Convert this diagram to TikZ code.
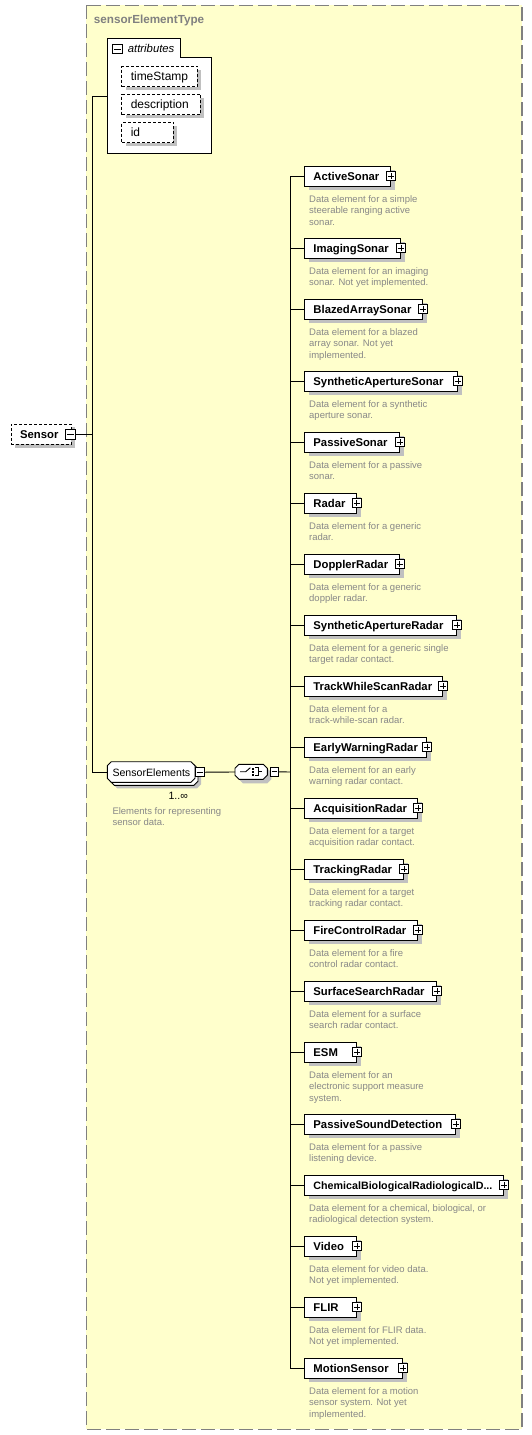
\documentclass[tikz,border=0pt]{standalone}
\usepackage{fontspec}
\setmainfont{Liberation Sans}
\usetikzlibrary{shadows}
\definecolor{bgyellow}{RGB}{255,255,204}
\definecolor{framegray}{RGB}{128,128,128}
\definecolor{shadowgray}{RGB}{192,192,192}
\definecolor{descgray}{RGB}{136,136,136}
\tikzset{
  conn/.style={line width=0.9pt},
  boxline/.style={line width=0.9pt},
  elembox/.style={draw, fill=white, line width=0.9pt, minimum height=20pt,
    inner xsep=9pt, inner ysep=0pt, text height=8.5pt, text depth=0.5pt, anchor=west,
    font=\fontsize{11.3}{13}\selectfont\bfseries,
    drop shadow={shadow xshift=4.5pt, shadow yshift=-4pt, fill=shadowgray, opacity=1}},
  attrbox/.style={draw, fill=white, line width=0.9pt, dash pattern=on 3pt off 2pt,
    minimum height=20.4pt, inner xsep=9pt, inner ysep=0pt, text height=8.5pt, text depth=0.5pt,
    anchor=west, font=\fontsize{12}{14}\selectfont,
    drop shadow={shadow xshift=4pt, shadow yshift=-3.5pt, fill=shadowgray, opacity=1}},
  desc/.style={anchor=north west, align=left, inner sep=0pt,
    font=\fontsize{9.5}{11.3}\selectfont, text=descgray},
  pbox/.style={draw, fill=white, line width=0.8pt, minimum size=9pt, inner sep=0pt,
    path picture={\draw[line width=0.8pt]
      ([xshift=1.5pt]path picture bounding box.west) -- ([xshift=-1.5pt]path picture bounding box.east)
      ([yshift=-1.5pt]path picture bounding box.north) -- ([yshift=1.5pt]path picture bounding box.south);}},
  mbox/.style={draw, fill=white, line width=0.8pt, minimum size=9pt, inner sep=0pt,
    path picture={\draw[line width=0.8pt]
      ([xshift=1.5pt]path picture bounding box.west) -- ([xshift=-1.5pt]path picture bounding box.east);}},
}
\newcommand\elemnode[5]{%
  \node[elembox] (#1) at (304,#2) {\makebox[\dimexpr#3pt-322pt\relax][l]{#4}};
  \node[pbox] (#1p) at (#1.east) {};
  \node[desc] (#1d) at (309,#2+19.5) {#5};
  \coordinate (#1j) at (290,#2);
  \draw[conn] (#1j) -- (#1.west);
}
\begin{document}
\begin{tikzpicture}[x=1pt,y=-1pt]
\useasboundingbox (0,0) rectangle (532,1435);
\fill[white] (0,0) rectangle (532,1435);
% outer frame
\draw[framegray, line width=1.1pt, dash pattern=on 14pt off 5pt, fill=bgyellow]
  (86.3,5.3) rectangle (522,1429.3);
\node[anchor=base west, inner sep=0pt, font=\fontsize{11.7}{13}\selectfont\bfseries, text=framegray]
  (title) at (93.7,23) {sensorElementType};

% Sensor
\node[attrbox, font=\fontsize{11.3}{13}\selectfont\bfseries, minimum height=20.3pt,
  drop shadow={shadow xshift=4pt, shadow yshift=-3pt, fill=shadowgray, opacity=1}]
  (sensor) at (10.7,434.2) {\makebox[42.3pt][l]{Sensor}};
\node[mbox, minimum size=10pt] (sensorm) at (70.7,434.3) {};
\coordinate (jS) at (92.7,434.3);
\draw[conn] (sensorm.east) -- (jS);

% attributes
\draw[boxline, fill=white] (107.3,38.3) -- (180,38.3) -- (180,57.3) -- (211.3,57.3)
  -- (211.3,153.3) -- (107.3,153.3) -- cycle;
\node[mbox, minimum size=9.5pt] (attrm) at (117.3,49) {};
\node[anchor=base west, inner sep=0pt, font=\fontsize{11.3}{13}\selectfont\itshape]
  (attrt) at (127.7,52.5) {attributes};
\node[attrbox] (ts) at (121.3,76.5) {\makebox[57.7pt][l]{timeStamp}};
\node[attrbox] (ds) at (121.3,104.5) {\makebox[60.7pt][l]{description}};
\node[attrbox] (idn) at (121.3,132.5) {\makebox[33.7pt][l]{id}};
\coordinate (attrL) at (107.3,96.3);
\coordinate (j1) at (92.7,96.3);
\coordinate (j2) at (92.7,772);

% SensorElements
\fill[shadowgray] (117.3,767.7) -- (197,767.7) -- (201,771.7) -- (201,784.3) -- (197,788.3)
  -- (117.3,788.3) -- (113.3,784.3) -- (113.3,771.7) -- cycle;
\draw[boxline, fill=white] (114.3,764.7) -- (194,764.7) -- (198,768.7) -- (198,781.3) -- (194,785.3)
  -- (114.3,785.3) -- (110.3,781.3) -- (110.3,768.7) -- cycle;
\draw[boxline, fill=white] (111.3,761.7) -- (191,761.7) -- (195,765.7) -- (195,778.3) -- (191,782.3)
  -- (111.3,782.3) -- (107.3,778.3) -- (107.3,765.7) -- cycle;
\node[anchor=base west, inner sep=0pt, font=\fontsize{10.6}{12}\selectfont] (se) at (112.3,776) {SensorElements};
\coordinate (seL) at (107.3,772);
\node[mbox] (sem) at (199.7,772.2) {};
\node[anchor=base west, inner sep=0pt, font=\fontsize{10.6}{12}\selectfont] (occ) at (168.3,799) {1..∞};
\node[desc] (sed) at (112.3,807) {Elements for representing\\sensor data.};

\draw[conn] (attrL) -- (j1) -- (j2) -- (seL);

% choice compositor
\begin{scope}[shift={(4,4)}]
\fill[shadowgray] (239,764.3) -- (263.3,764.3) -- (267.3,768.3) -- (267.3,775.3) -- (263.3,779.3)
  -- (239,779.3) -- (235,775.3) -- (235,768.3) -- cycle;
\end{scope}
\draw[boxline, fill=white] (239,764.3) -- (263.3,764.3) -- (267.3,768.3) -- (267.3,775.3) -- (263.3,779.3)
  -- (239,779.3) -- (235,775.3) -- (235,768.3) -- cycle;
\draw[line width=0.9pt] (240,771.7) -- (245.7,771.7) -- (250.3,767.7);
\fill (251.7,767.7) rectangle (254.3,769.7);
\fill (251.7,770.7) rectangle (254.3,772.7);
\fill (251.7,773.7) rectangle (254.3,775.7);
\draw[line width=0.9pt] (255,767.7) -- (258.3,767.7) -- (258.3,775.7) -- (255,775.7);
\draw[line width=0.9pt] (258.3,771.7) -- (262.3,771.7);
\coordinate (chL) at (235,772);
\node[mbox, minimum size=8.5pt] (chm) at (274.3,771.8) {};
\coordinate (cj) at (290,772);
\draw[conn] (sem.east) -- (chL);
\draw[conn] (chm.east) -- (cj);

% children
\elemnode{e1}{176}{390}{ActiveSonar}{Data element for a simple\\steerable ranging active\\sonar.}
\elemnode{e2}{248}{400}{ImagingSonar}{Data element for an imaging\\sonar. Not yet implemented.}
\elemnode{e3}{309}{422}{BlazedArraySonar}{Data element for a blazed\\array sonar. Not yet\\implemented.}
\elemnode{e4}{381}{457}{SyntheticApertureSonar}{Data element for a synthetic\\aperture sonar.}
\elemnode{e5}{442}{399}{PassiveSonar}{Data element for a passive\\sonar.}
\elemnode{e6}{503}{355.7}{Radar}{Data element for a generic\\radar.}
\elemnode{e7}{564}{398.7}{DopplerRadar}{Data element for a generic\\doppler radar.}
\elemnode{e8}{625}{456}{SyntheticApertureRadar}{Data element for a generic single\\target radar contact.}
\elemnode{e9}{686}{442}{TrackWhileScanRadar}{Data element for a\\track-while-scan radar.}
\elemnode{e10}{747}{426}{EarlyWarningRadar}{Data element for an early\\warning radar contact.}
\elemnode{e11}{808}{417}{AcquisitionRadar}{Data element for a target\\acquisition radar contact.}
\elemnode{e12}{869}{403}{TrackingRadar}{Data element for a target\\tracking radar contact.}
\elemnode{e13}{930}{417}{FireControlRadar}{Data element for a fire\\control radar contact.}
\elemnode{e14}{991}{436}{SurfaceSearchRadar}{Data element for a surface\\search radar contact.}
\elemnode{e15}{1052}{356}{ESM}{Data element for an\\electronic support measure\\system.}
\elemnode{e16}{1124}{455}{PassiveSoundDetection}{Data element for a passive\\listening device.}
\elemnode{e17}{1185}{503}{{\fontsize{10.7}{12}\selectfont ChemicalBiologicalRadiologicalD...}}{Data element for a chemical, biological, or\\radiological detection system.}
\elemnode{e18}{1246}{356}{Video}{Data element for video data.\\Not yet implemented.}
\elemnode{e19}{1307}{356}{FLIR}{Data element for FLIR data.\\Not yet implemented.}
\elemnode{e20}{1368}{402}{MotionSensor}{Data element for a motion\\sensor system. Not yet\\implemented.}
\draw[conn] (e1j) -- (e20j);
\end{tikzpicture}
\end{document}
